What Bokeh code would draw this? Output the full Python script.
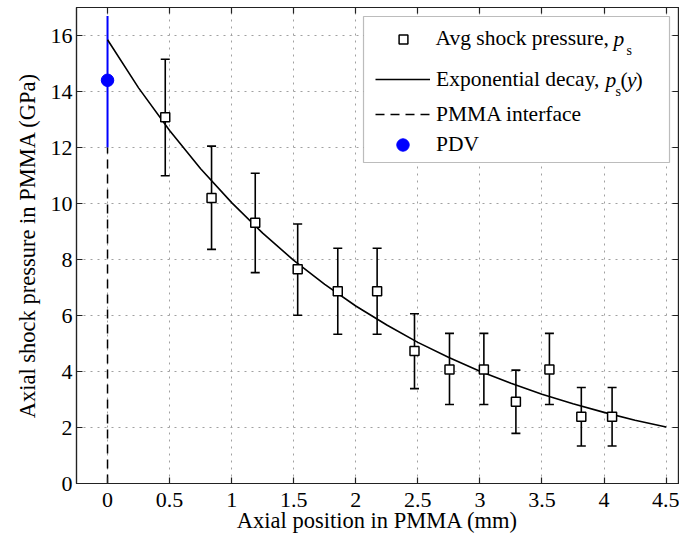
from bokeh.plotting import figure
from bokeh.models import (Range1d, FixedTicker, LinearAxis, Whisker, TeeHead, ColumnDataSource,
                          Legend, LegendItem, Label, BoxAnnotation, CustomLabelingPolicy)
from bokeh.embed import file_html
from bokeh.resources import INLINE

# ---------------- data ----------------
x_pos = [0.465, 0.838, 1.19, 1.532, 1.855, 2.172, 2.473, 2.755, 3.032, 3.29, 3.56, 3.817, 4.065]
p_avg = [13.08, 10.20, 9.31, 7.65, 6.87, 6.87, 4.73, 4.07, 4.07, 2.92, 4.07, 2.38, 2.38]
p_hi = [15.15, 12.05, 11.08, 9.27, 8.40, 8.40, 6.06, 5.36, 5.36, 4.05, 5.36, 3.43, 3.43]
p_lo = [10.99, 8.36, 7.53, 6.01, 5.33, 5.33, 3.39, 2.82, 2.82, 1.79, 2.82, 1.34, 1.34]

curve_x = [0.0, 0.25, 0.5, 0.75, 1.0, 1.25, 1.5, 1.75, 2.0, 2.25, 2.5, 2.75, 3.0,
           3.25, 3.5, 3.75, 4.0, 4.25, 4.5]
curve_p = [15.85, 14.13, 12.61, 11.24, 10.03, 8.94, 7.97, 7.11, 6.34, 5.66, 5.04, 4.50, 4.01,
           3.58, 3.19, 2.85, 2.54, 2.26, 2.02]

interface_x = [0.0, 0.0]
interface_p = [0.0, 12.0]

pdv_x = [0.0]
pdv_p = [14.4]
pdv_lo = [12.0]
pdv_hi = [16.7]

x_ticks = [0, 0.5, 1, 1.5, 2, 2.5, 3, 3.5, 4, 4.5]
x_tick_labels = ["0", "0.5", "1", "1.5", "2", "2.5", "3", "3.5", "4", "4.5"]
y_ticks = [0, 2, 4, 6, 8, 10, 12, 14, 16]
y_tick_labels = ["0", "2", "4", "6", "8", "10", "12", "14", "16"]

x_title = "Axial position in PMMA (mm)"
y_title = "Axial shock pressure in PMMA (GPa)"
legend_labels = ["Avg shock pressure,", "Exponential decay,", "PMMA interface", "PDV"]

FONT = "Liberation Serif"
LEG_SIZE = "21.5px"

# ---------------- figure ----------------
p = figure(width=679, height=536, output_backend="svg", toolbar_location=None,
           x_range=Range1d(-0.25, 4.6), y_range=Range1d(0, 17),
           min_border_left=76, min_border_right=1, min_border_top=7, min_border_bottom=53)
p.background_fill_color = "white"
p.border_fill_color = "white"
p.outline_line_color = "#222222"
p.outline_line_width = 1.2

for ax, ticks, labels in ((p.xaxis[0], x_ticks, x_tick_labels), (p.yaxis[0], y_ticks, y_tick_labels)):
    ax.ticker = FixedTicker(ticks=ticks)
    ax.major_label_overrides = {t: l for t, l in zip(ticks, labels)}
    ax.major_label_text_font = FONT
    ax.major_label_text_font_size = "22px"
    ax.major_label_text_color = "black"
    ax.axis_label_text_font = FONT
    ax.axis_label_text_font_size = "22.5px"
    ax.axis_label_text_font_style = "normal"
    ax.axis_label_text_color = "black"
    ax.major_tick_in = 6
    ax.major_tick_out = 0
    ax.minor_tick_line_color = None
    ax.axis_line_color = "#222222"
    ax.axis_line_width = 1.2
    ax.major_tick_line_color = "#222222"
    ax.major_tick_line_width = 1.2

p.xaxis.axis_label = x_title
p.yaxis.axis_label = y_title
p.xaxis.major_label_standoff = 9
p.xaxis.axis_label_standoff = -2
p.yaxis.major_label_standoff = 4
p.yaxis.axis_label_standoff = 8

hide_all = "for (const i of Array.from(indices)) { indices.unset(i) }\nreturn indices"
for ticks, side in ((x_ticks, "above"), (y_ticks, "right")):
    ax = LinearAxis(ticker=FixedTicker(ticks=ticks), major_label_text_font_size="0px",
                    major_label_policy=CustomLabelingPolicy(code=hide_all),
                    major_label_standoff=0, major_tick_in=6, major_tick_out=0,
                    minor_tick_line_color=None, axis_line_color="#222222", axis_line_width=1.2,
                    major_tick_line_color="#222222", major_tick_line_width=1.2)
    p.add_layout(ax, side)

p.xgrid.ticker = FixedTicker(ticks=x_ticks)
p.ygrid.ticker = FixedTicker(ticks=y_ticks)
for g in (p.xgrid[0], p.ygrid[0]):
    g.grid_line_color = "#a0a0a0"
    g.grid_line_dash = "2 5"
    g.grid_line_width = 1

# ---------------- glyphs ----------------
src = ColumnDataSource(dict(x=x_pos, p=p_avg, lo=p_lo, hi=p_hi))
err = Whisker(source=src, base="x", upper="hi", lower="lo", dimension="height",
              line_color="black", line_width=1.6,
              upper_head=TeeHead(size=9, line_color="black", line_width=1.6),
              lower_head=TeeHead(size=9, line_color="black", line_width=1.6))
p.add_layout(err)

pdv_src = ColumnDataSource(dict(x=pdv_x, p=pdv_p, lo=pdv_lo, hi=pdv_hi))
pdv_err = Whisker(source=pdv_src, base="x", upper="hi", lower="lo", dimension="height",
                  line_color="#0000ff", line_width=2, upper_head=None, lower_head=None)
p.add_layout(pdv_err)

r_iface = p.line(interface_x, interface_p, line_color="black", line_width=1.5, line_dash="9 6")
r_curve = p.line(curve_x, curve_p, line_color="black", line_width=1.6)
r_sq = p.scatter("x", "p", source=src, marker="square", size=9, fill_color="white",
                 line_color="black", line_width=1.5)
r_pdv = p.scatter("x", "p", source=pdv_src, marker="circle", size=12.5,
                  fill_color="#0000ff", line_color="#0000ff")

# ---------------- legend (box, one row legend per entry, extra math texts) ----------------
box = BoxAnnotation(left=287, right=593, top=467, bottom=321,
                    left_units="screen", right_units="screen", top_units="screen", bottom_units="screen",
                    fill_color="white", fill_alpha=1.0, line_color="#222222", line_width=1.2,
                    level="annotation")
p.add_layout(box)

def row_legend(renderer, label, vx, vy, gw, gh, standoff):
    lg = Legend(items=[LegendItem(label=label, renderers=[renderer])], location=(vx, vy),
                padding=0, margin=0, spacing=0, glyph_width=gw, glyph_height=gh,
                label_height=gh, label_standoff=standoff,
                border_line_color=None, background_fill_alpha=0,
                label_text_font=FONT, label_text_font_size=LEG_SIZE, label_text_color="black")
    p.add_layout(lg)

row_legend(r_sq, legend_labels[0], 315.5, 431.3, 22, 26, 22)
row_legend(r_curve, legend_labels[1], 299, 391, 55, 26, 6)
row_legend(r_iface, legend_labels[2], 299, 355.6, 55, 26, 6)
row_legend(r_pdv, legend_labels[3], 311, 322.8, 31, 31, 18)

def txt(s, x, y, size=LEG_SIZE, style="normal"):
    p.add_layout(Label(x=x, y=y, x_units="screen", y_units="screen", text=s,
                       text_font=FONT, text_font_size=size, text_font_style=style,
                       text_color="black", text_baseline="middle", text_align="left"))

txt("p", 537, 444.3, style="italic")
txt("s", 550, 432.8, size="14px")
txt("p", 529, 404, style="italic")
txt("s", 539, 392.5, size="14px")
txt("(", 544, 404)
txt("y", 550.5, 404, style="italic")
txt(")", 559, 404)

open("out.html", "w").write(file_html(p, INLINE))
